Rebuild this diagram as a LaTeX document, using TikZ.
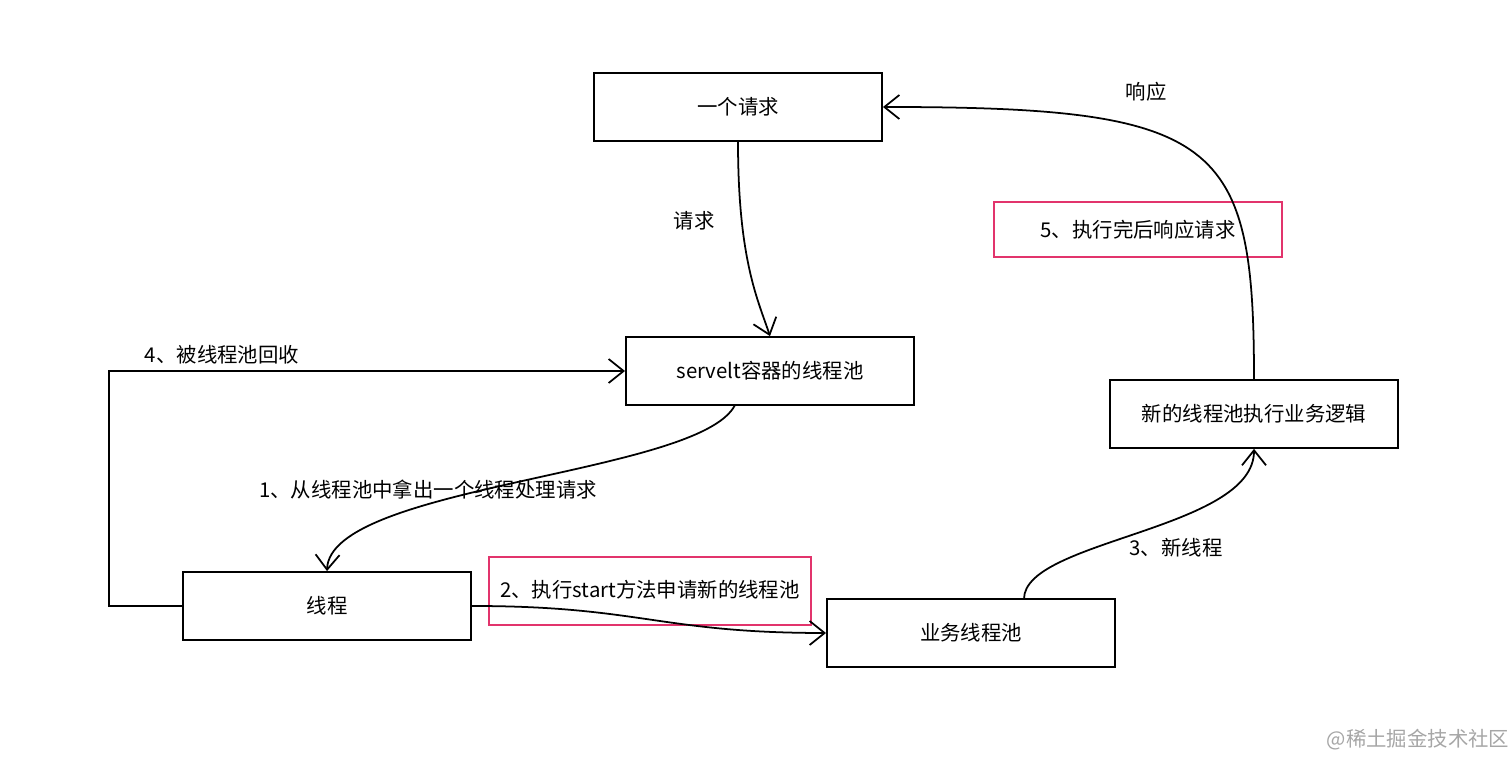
\documentclass[tikz,border=0pt]{standalone}
\usepackage{fontspec}
\setmainfont{Noto Sans CJK SC}
\usetikzlibrary{arrows.meta,positioning}
\definecolor{notered}{RGB}{226,52,108}
\begin{document}
\begin{tikzpicture}[x=0.01cm, y=-0.01cm, >={Straight Barb[length=0.15cm,width=0.24cm]},
  font=\fontsize{5.8}{6.5}\selectfont, line width=0.5pt,
  box/.style={draw,rectangle,minimum width=2.88cm,minimum height=0.68cm,inner sep=0pt},
  note/.style={draw=notered,rectangle,inner sep=0pt}]
  \useasboundingbox (0,0) rectangle (1512,771);
  \node[box] (req) at (738,107) {一个请求};
  \node[box] (pool) at (770,371) {servelt容器的线程池};
  \node[box] (thr) at (327,606) {线程};
  \node[box] (biz) at (971,633) {业务线程池};
  \node[box] (newp) at (1254,414) {新的线程池执行业务逻辑};
  \node[note,minimum width=2.88cm,minimum height=0.55cm] (n5) at (1138,229.5) {5、执行完后响应请求};
  \node[note,minimum width=3.22cm,minimum height=0.68cm] (n2) at (650,591) {};
  \node (l2) at (650,590) {2、执行start方法申请新的线程池};
  \coordinate (c4) at (109,606);
  \coordinate (c4t) at (109,371);
  \draw[->] (req.south) .. controls (738,260) and (758,300) .. (pool.north);
  \draw[->] (735,405) .. controls (700,475) and (330,485) .. (thr.north);
  \draw[->] (thr.east) .. controls (640,606) and (660,633) .. (biz.west);
  \draw[->] (1024,599) .. controls (1024,540) and (1254,530) .. (newp.south);
  \draw[->] (newp.north) .. controls (1254,140) and (1220,107) .. (req.east);
  \draw[->] (thr.west) -- (c4) -- (c4t) -- (pool.west);
  \node (l0) at (694,221) {请求};
  \node (l4) at (222,355) {4、被线程池回收};
  \node (l1) at (428,490) {1、从线程池中拿出一个线程处理请求};
  \node (l3) at (1176,548) {3、新线程};
  \node (lr) at (1146,92) {响应};
  \node[text=black!35] (wm) at (1418,740) {@稀土掘金技术社区};
\end{tikzpicture}
\end{document}
